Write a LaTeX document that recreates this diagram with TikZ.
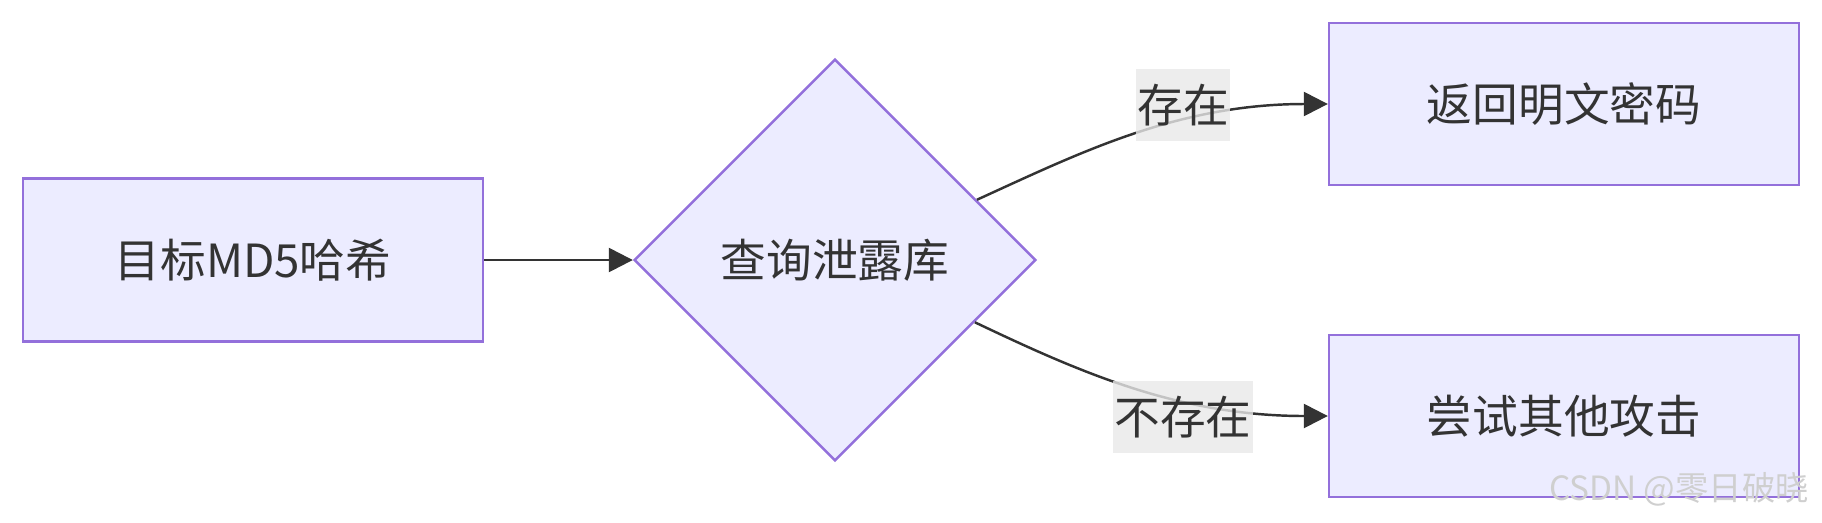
\documentclass[tikz,border=0pt]{standalone}
\usepackage{fontspec}
\setmainfont{Noto Sans CJK SC}
\usepackage{tikz}
\usetikzlibrary{shapes.geometric, arrows.meta, positioning}
\usepackage{xcolor}
\definecolor{nodefill}{HTML}{ECECFF}
\definecolor{nodeline}{HTML}{9370DB}
\definecolor{inkgray}{HTML}{333333}
\definecolor{labelbg}{HTML}{E8E8E8}
\definecolor{markgray}{HTML}{CFCFCF}

\begin{document}
\begin{tikzpicture}[x=0.02cm, y=-0.02cm,
    flowbox/.style={draw=nodeline, fill=nodefill, line width=1.4pt, inner sep=0pt,
        text=inkgray, font=\fontsize{26}{31}\selectfont},
    checkbox/.style={diamond, shape aspect=1, draw=nodeline, fill=nodefill, line width=1.4pt,
        inner sep=0pt, minimum width=8.04cm, minimum height=8.04cm,
        text=inkgray, font=\fontsize{26}{31}\selectfont},
    edgelabel/.style={fill=labelbg, fill opacity=0.8, text opacity=1, text=inkgray,
        inner xsep=1pt, minimum height=1.44cm, font=\fontsize{26}{31}\selectfont},
    flowedge/.style={draw=inkgray, line width=1.4pt, -{Triangle[length=0.48cm, width=0.48cm]}}]
    \useasboundingbox (0,0) rectangle (1822,522);

    % nodes
    \node[flowbox, minimum width=9.2cm, minimum height=3.26cm] (target) at (253,260) {目标MD5哈希};
    \node[checkbox] (query) at (835,260) {查询泄露库};
    \node[flowbox, minimum width=9.4cm, minimum height=3.24cm] (found) at (1564,104) {返回明文密码};
    \node[flowbox, minimum width=9.4cm, minimum height=3.24cm] (other) at (1564,416) {尝试其他攻击};

    % connectors
    \draw[flowedge] (target.east) -- (query.west);
    \draw[flowedge] (query.23) .. controls +(103,-47) and +(-150,0) .. (found.west);
    \draw[flowedge] (query.-24) .. controls +(103,49) and +(-150,0) .. (other.west);

    % edge labels
    \node[edgelabel] (yeslabel) at (1183,105) {存在};
    \node[edgelabel] (nolabel) at (1183,417) {不存在};

    % watermark
    \node[text=markgray, font=\fontsize{19}{22}\selectfont, inner sep=0pt] (mark) at (1679,489) {CSDN @零日破晓};
\end{tikzpicture}
\end{document}
